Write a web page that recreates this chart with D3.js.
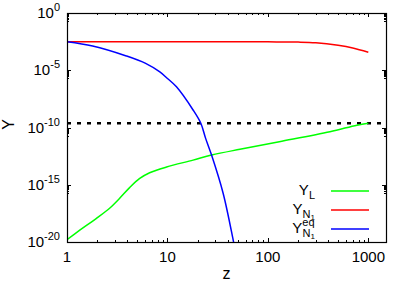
<!DOCTYPE html>
<html>
<head>
<meta charset="utf-8">
<script src="https://cdn.jsdelivr.net/npm/d3@7"></script>
<style>
  body { margin: 0; background: #fff; }
  text { font-family: "Liberation Sans", Arial, sans-serif; fill: #000; }
</style>
</head>
<body>
<div id="chart"></div>
<script>
// values (z, log10 Y)
var zL = [1, 1.34, 1.95, 2.64, 3.33, 4.2, 5.3, 6.65, 9.8, 18, 27.5, 52.7, 130, 415, 770, 1000];
var logYL = [-19.79, -18.97, -17.95, -17.07, -16.2, -15.25, -14.45, -13.95, -13.45, -12.85, -12.41, -11.9, -11.24, -10.37, -9.8, -9.63];

var zN = [1, 10, 100, 200, 300, 500, 700, 1000];
var logYN = [-2.51, -2.51, -2.52, -2.54, -2.6, -2.82, -3.05, -3.42];

var zEq = [1, 1.8, 3.9, 6, 8.4, 10, 12.3, 18, 21.5, 24, 27.5, 35.9, 45.2, 47];
var logYEq = [-2.51, -2.88, -3.75, -4.38, -5.15, -5.72, -6.45, -8.47, -9.63, -10.95, -12.41, -15.76, -19.85, -20.6];

var target = 2.35e-10;

var xTicks = [1, 10, 100, 1000];
var yTickExp = [0, -5, -10, -15, -20];

var margin = { top: 13, right: 23, bottom: 45, left: 67 };
var width = 409 - margin.left - margin.right;
var height = 287 - margin.top - margin.bottom;

var x = d3.scaleLog().domain([1, 1500]).range([0, width]);
var y = d3.scaleLog().domain([1e-20, 1]).range([height, 0]);

var svg = d3.select("#chart")
    .append("svg")
    .attr("width", 409)
    .attr("height", 287)
    .append("g")
    .attr("transform", "translate(" + margin.left + "," + margin.top + ")");

svg.append("defs").append("clipPath").attr("id", "clip")
    .append("rect").attr("width", width).attr("height", height);

// minor ticks
var xMinor = [];
[1, 10, 100, 1000].forEach(function (d) {
    for (var k = 2; k <= 9; k++) if (d * k <= 1500) xMinor.push(d * k);
});
var yMinor = [];
yTickExp.forEach(function (e) {
    for (var k = 2; k <= 9; k++) if (e - 1 >= -20) yMinor.push(k * Math.pow(10, e - 1));
});

var ticks = svg.append("g").attr("stroke", "#000").attr("stroke-width", 1);
xTicks.forEach(function (d) {
    var px = Math.round(x(d)) + 0.5;
    ticks.append("line").attr("x1", px).attr("x2", px).attr("y1", height).attr("y2", height - 4);
    ticks.append("line").attr("x1", px).attr("x2", px).attr("y1", 0).attr("y2", 4);
});
xMinor.forEach(function (d) {
    var px = Math.round(x(d)) + 0.5;
    ticks.append("line").attr("x1", px).attr("x2", px).attr("y1", height).attr("y2", height - 2);
    ticks.append("line").attr("x1", px).attr("x2", px).attr("y1", 0).attr("y2", 2);
});
yTickExp.forEach(function (e) {
    var py = Math.round(y(Math.pow(10, e))) + 0.5;
    ticks.append("line").attr("x1", 0).attr("x2", 4).attr("y1", py).attr("y2", py);
    ticks.append("line").attr("x1", width).attr("x2", width - 4).attr("y1", py).attr("y2", py);
});
yMinor.forEach(function (d) {
    var py = Math.round(y(d)) + 0.5;
    ticks.append("line").attr("x1", 0).attr("x2", 2).attr("y1", py).attr("y2", py);
    ticks.append("line").attr("x1", width).attr("x2", width - 2).attr("y1", py).attr("y2", py);
});

// tick labels
svg.selectAll(".xlab").data(xTicks).enter().append("text")
    .attr("x", function (d) { return x(d); })
    .attr("y", height + 20)
    .attr("text-anchor", "middle")
    .style("font-size", "15px")
    .text(function (d) { return d; });

var ylab = svg.selectAll(".ylab").data(yTickExp).enter().append("text")
    .attr("x", -7)
    .attr("y", function (d) { return y(Math.pow(10, d)) + 5; })
    .attr("text-anchor", "end")
    .style("font-size", "15px");
ylab.append("tspan").text("10");
ylab.append("tspan").attr("dy", -7).style("font-size", "11px").text(function (d) { return d; });

// axis titles
svg.append("text")
    .attr("x", width / 2)
    .attr("y", height + 37)
    .attr("text-anchor", "middle")
    .style("font-size", "16px")
    .text("z");
svg.append("text")
    .attr("transform", "translate(" + (-53) + "," + (y(1e-10) - 3) + ") rotate(-90)")
    .attr("text-anchor", "middle")
    .style("font-size", "16px")
    .text("Y");

// target line
svg.append("line")
    .attr("x1", 0).attr("x2", width)
    .attr("y1", y(target)).attr("y2", y(target))
    .attr("stroke", "#000")
    .attr("stroke-width", 2.5)
    .attr("stroke-dasharray", "4,6");

var line = d3.line()
    .curve(d3.curveCatmullRom.alpha(0.5))
    .x(function (d) { return x(d[0]); })
    .y(function (d) { return y(Math.pow(10, d[1])); });

var series = [
    { z: zL, v: logYL, color: "#00ff00" },
    { z: zN, v: logYN, color: "#ff0000" },
    { z: zEq, v: logYEq, color: "#0000ff" }
];
var plot = svg.append("g").attr("clip-path", "url(#clip)");
series.forEach(function (s) {
    plot.append("path")
        .attr("d", line(d3.zip(s.z, s.v)))
        .attr("fill", "none")
        .attr("stroke", s.color)
        .attr("stroke-width", 1.5);
});

// frame
svg.append("rect")
    .attr("x", 0.5).attr("y", 0.5)
    .attr("width", width).attr("height", height)
    .attr("fill", "none")
    .attr("stroke", "#000")
    .attr("stroke-width", 1.2);

// legend
var legend = svg.append("g");
var legY = [178, 197, 216];
var lx = 264;
legend.selectAll("line").data(series).enter().append("line")
    .attr("x1", lx).attr("x2", lx + 38)
    .attr("y1", function (d, i) { return legY[i]; })
    .attr("y2", function (d, i) { return legY[i]; })
    .attr("stroke", function (d) { return d.color; })
    .attr("stroke-width", 1.5);

var t1 = legend.append("text").attr("x", lx - 16).attr("y", legY[0] + 4).attr("text-anchor", "end").style("font-size", "15px");
t1.append("tspan").text("Y");
t1.append("tspan").attr("dy", 4).style("font-size", "11px").text("L");

var t2 = legend.append("text").attr("x", lx - 16).attr("y", legY[1] + 4).attr("text-anchor", "end").style("font-size", "15px");
t2.append("tspan").text("Y");
t2.append("tspan").attr("dy", 4).style("font-size", "11px").text("N");
t2.append("tspan").attr("dy", 2).style("font-size", "8px").text("1");

var t3 = legend.append("text").attr("x", lx - 16).attr("y", legY[2] + 4).attr("text-anchor", "end").style("font-size", "15px");
t3.append("tspan").text("Y");
t3.append("tspan").attr("dy", -7).style("font-size", "11px").text("eq");
t3.append("tspan").attr("dx", -12).attr("dy", 11).style("font-size", "11px").text("N");
t3.append("tspan").attr("dy", 2).style("font-size", "8px").text("1");
</script>
</body>
</html>
